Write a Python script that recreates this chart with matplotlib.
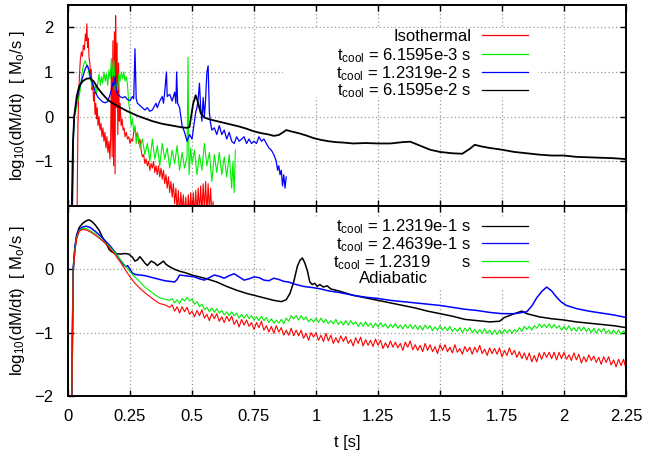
import matplotlib
matplotlib.use("Agg")
import numpy as np
import matplotlib.pyplot as plt
from matplotlib.patches import Rectangle

plt.rcParams['font.family'] = ['Liberation Sans', 'DejaVu Sans']
plt.rcParams['mathtext.fontset'] = 'custom'
plt.rcParams['mathtext.rm'] = 'Liberation Sans'
plt.rcParams['mathtext.it'] = 'Liberation Sans:italic'

# ---------------- data: top panel ----------------
t_iso = [0.036, 0.04, 0.043, 0.047, 0.05, 0.054, 0.058, 0.062, 0.066, 0.07, 0.073, 0.076, 0.079, 0.082, 0.085,
         0.088, 0.091, 0.094, 0.097, 0.1, 0.103, 0.106, 0.109, 0.112, 0.115, 0.118, 0.121, 0.125, 0.129, 0.133,
         0.137, 0.141, 0.145, 0.149, 0.153, 0.157, 0.161, 0.165, 0.169, 0.172, 0.175, 0.178, 0.181, 0.184, 0.187,
         0.19, 0.192, 0.195, 0.198, 0.201, 0.204, 0.207, 0.21, 0.214, 0.218, 0.222, 0.226, 0.23, 0.235, 0.24,
         0.245, 0.25, 0.255, 0.26, 0.265, 0.27, 0.275, 0.28, 0.285, 0.29, 0.295, 0.3, 0.305, 0.31, 0.315,
         0.32, 0.325, 0.33, 0.335, 0.34, 0.345, 0.35, 0.355, 0.36, 0.365, 0.37, 0.375, 0.38, 0.385, 0.39,
         0.395, 0.4, 0.405, 0.41, 0.415, 0.42, 0.425, 0.43, 0.435, 0.44, 0.445, 0.45, 0.455, 0.46, 0.465,
         0.47, 0.475, 0.48, 0.485, 0.49, 0.495, 0.5, 0.505, 0.51, 0.515, 0.52, 0.525, 0.53, 0.535, 0.54,
         0.545, 0.55, 0.555, 0.56, 0.565, 0.57, 0.575, 0.58, 0.585, 0.587]
y_iso = [-2.5, -0.2, 0.5, 1.0, 1.3, 1.45, 1.35, 1.6, 1.5, 1.85, 1.7, 2.08, 1.55, 1.75, 1.3,
         1.2, 0.95, 1.05, 0.6, 0.75, 0.35, 0.55, 0.05, 0.3, -0.05, 0.2, -0.2, 0.0, -0.3, -0.15,
         -0.45, -0.25, -0.55, -0.35, -0.7, -0.45, -0.8, -0.55, -0.95, -0.5, 1.1, -0.9, 1.7, -1.1, 1.9,
         -1.28, 2.26, 0.2, 1.65, -0.4, 1.2, -0.1, 0.3, -0.2, -0.05, -0.3, -0.25, -0.45, -0.35, -0.5,
         -0.45, -0.6, -0.5, -0.55, -0.35, -0.25, -0.45, -0.35, -0.6, -0.5, -0.75, -0.9, -0.85, -1.05, -0.95,
         -1.1, -1.0, -1.2, -1.05, -1.15, -1.0, -1.25, -1.1, -1.3, -1.1, -1.35, -1.15, -1.4, -1.2, -1.5,
         -1.3, -1.6, -1.35, -1.7, -1.45, -1.8, -1.5, -1.95, -1.6, -2.1, -1.65, -2.2, -1.7, -2.1, -1.75,
         -2.2, -1.8, -2.3, -1.75, -2.2, -1.7, -2.25, -1.7, -2.2, -1.65, -2.2, -1.6, -2.15, -1.55, -2.2,
         -1.5, -2.1, -1.45, -2.2, -1.5, -2.1, -1.6, -2.2, -1.9, -2.4]

t_c1 = [0.018, 0.022, 0.025, 0.03, 0.04, 0.048, 0.055, 0.06, 0.065, 0.07, 0.075, 0.08, 0.085, 0.09, 0.095,
        0.1, 0.105, 0.11, 0.115, 0.12, 0.125, 0.13, 0.135, 0.14, 0.145, 0.15, 0.155, 0.16, 0.165, 0.17,
        0.175, 0.18, 0.185, 0.19, 0.195, 0.2, 0.205, 0.21, 0.215, 0.22, 0.225, 0.23, 0.235, 0.24, 0.245,
        0.25, 0.255, 0.26, 0.265, 0.27, 0.275, 0.28, 0.29, 0.3, 0.31, 0.32, 0.33, 0.34, 0.35, 0.36,
        0.37, 0.38, 0.39, 0.4, 0.41, 0.42, 0.43, 0.44, 0.45, 0.46, 0.47, 0.48, 0.484, 0.488, 0.495,
        0.5, 0.51, 0.52, 0.53, 0.54, 0.55, 0.56, 0.57, 0.58, 0.59, 0.6, 0.61, 0.62, 0.63, 0.64,
        0.65, 0.66, 0.665, 0.67, 0.675]
y_c1 = [-2.3, -0.5, 0.0, 0.1, 0.35, 0.55, 0.9, 1.1, 1.2, 1.25, 1.15, 1.1, 0.95, 0.85, 0.75,
        0.72, 0.6, 0.7, 0.5, 0.75, 0.95, 0.7, 0.9, 0.75, 1.0, 0.8, 0.95, 0.7, 1.05, 0.85,
        1.3, 0.9, 1.25, 0.6, 0.75, 0.6, 0.95, 0.8, 1.0, 0.85, 1.0, 0.8, 0.9, 0.7, 0.3,
        0.1, -0.2, -0.05, -0.35, -0.2, -0.6, -0.35, -0.7, -0.5, -0.85, -0.6, -1.0, -0.5, -0.95, -0.65,
        -1.1, -0.6, -0.95, -0.7, -1.15, -0.75, -1.05, -0.65, -1.2, -0.8, -1.15, -0.9, 1.33, -1.3, -0.7,
        -1.05, -0.75, -1.3, -0.85, -1.2, -0.6, -1.1, -0.8, -1.45, -0.85, -1.25, -0.8, -1.3, -0.9, -1.35,
        -0.85, -1.6, -1.0, -1.7, -0.75]

t_c2 = [0.017, 0.021, 0.025, 0.03, 0.04, 0.05, 0.06, 0.07, 0.078, 0.085, 0.09, 0.1, 0.11, 0.12, 0.13,
        0.14, 0.15, 0.16, 0.17, 0.175, 0.18, 0.185, 0.19, 0.195, 0.2, 0.21, 0.22, 0.23, 0.24, 0.25,
        0.26, 0.265, 0.27, 0.275, 0.28, 0.29, 0.3, 0.31, 0.32, 0.33, 0.34, 0.35, 0.355, 0.36, 0.37,
        0.38, 0.385, 0.39, 0.397, 0.4, 0.41, 0.42, 0.43, 0.435, 0.438, 0.442, 0.45, 0.455, 0.46, 0.47,
        0.48, 0.49, 0.5, 0.505, 0.51, 0.515, 0.52, 0.525, 0.53, 0.535, 0.54, 0.545, 0.55, 0.555, 0.56,
        0.565, 0.57, 0.575, 0.58, 0.59, 0.6, 0.61, 0.62, 0.63, 0.64, 0.65, 0.66, 0.67, 0.68, 0.69,
        0.7, 0.71, 0.72, 0.73, 0.74, 0.75, 0.76, 0.77, 0.78, 0.79, 0.8, 0.81, 0.82, 0.83, 0.84,
        0.845, 0.85, 0.855, 0.86, 0.865, 0.87, 0.875, 0.88]
y_c2 = [-2.3, -0.5, 0.0, 0.2, 0.5, 0.72, 0.9, 1.08, 1.15, 1.05, 0.9, 0.72, 0.55, 0.44, 0.38,
        0.33, 0.31, 0.34, 0.5, 0.6, 0.75, 0.7, 0.9, 0.6, 0.5, 0.45, 0.42, 0.45, 0.38, 0.36,
        0.45, 0.4, 1.52, 0.4, 0.3, 0.25, 0.2, 0.15, 0.2, 0.12, 0.15, 0.25, 0.3, 0.2, 0.35,
        0.45, 0.3, 0.55, 1.0, 0.45, 0.5, 0.35, 0.55, 0.3, 1.0, 0.3, 0.2, 0.0, -0.2, -0.35,
        -0.55, -0.4, -0.5, -0.3, -0.1, 0.1, 0.2, 0.4, 0.75, 0.2, -0.1, 0.43, 0.0, 0.4, 1.0,
        1.14, 0.1, -0.15, -0.3, -0.25, -0.4, -0.2, -0.4, -0.3, -0.5, -0.35, -0.55, -0.6, -0.45, -0.55,
        -0.5, -0.45, -0.6, -0.5, -0.6, -0.55, -0.6, -0.45, -0.55, -0.5, -0.6, -0.7, -0.75, -0.85, -1.0,
        -1.2, -1.1, -1.3, -1.2, -1.55, -1.3, -1.6, -1.35]

t_c3 = [0.015, 0.02, 0.025, 0.035, 0.045, 0.06, 0.075, 0.09, 0.105, 0.12, 0.14, 0.16, 0.18, 0.2, 0.22,
        0.24, 0.26, 0.28, 0.3, 0.32, 0.34, 0.36, 0.38, 0.4, 0.42, 0.44, 0.46, 0.48, 0.49, 0.495,
        0.505, 0.515, 0.525, 0.535, 0.55, 0.57, 0.6, 0.63, 0.66, 0.69, 0.72, 0.75, 0.78, 0.81, 0.83,
        0.85, 0.87, 0.88, 0.9, 0.93, 0.96, 0.99, 1.02, 1.05, 1.08, 1.11, 1.15, 1.2, 1.25, 1.3,
        1.35, 1.38, 1.42, 1.46, 1.5, 1.55, 1.59, 1.62, 1.64, 1.67, 1.7, 1.75, 1.8, 1.85, 1.9,
        1.95, 2.0, 2.05, 2.1, 2.15, 2.2, 2.25]
y_c3 = [-2.1, -0.6, 0.0, 0.45, 0.68, 0.8, 0.85, 0.86, 0.78, 0.64, 0.5, 0.38, 0.3, 0.24, 0.18,
        0.12, 0.07, 0.02, -0.02, -0.06, -0.1, -0.13, -0.16, -0.18, -0.2, -0.22, -0.24, -0.25, -0.23, -0.05,
        0.3, 0.48, 0.3, 0.08, -0.02, -0.06, -0.1, -0.14, -0.18, -0.22, -0.27, -0.33, -0.37, -0.4, -0.43,
        -0.41, -0.34, -0.3, -0.33, -0.37, -0.42, -0.48, -0.52, -0.55, -0.57, -0.58, -0.6, -0.59, -0.6, -0.6,
        -0.57, -0.56, -0.65, -0.74, -0.79, -0.82, -0.83, -0.72, -0.63, -0.67, -0.7, -0.74, -0.79, -0.82, -0.85,
        -0.87, -0.87, -0.9, -0.91, -0.92, -0.93, -0.95]

# ---------------- data: bottom panel ----------------
t_b1 = [0.015, 0.018, 0.021, 0.028, 0.035, 0.045, 0.06, 0.075, 0.085, 0.095, 0.11, 0.125, 0.14, 0.155, 0.165,
        0.175, 0.19, 0.21, 0.23, 0.245, 0.26, 0.27, 0.28, 0.29, 0.3, 0.31, 0.32, 0.335, 0.35, 0.36,
        0.375, 0.385, 0.395, 0.41, 0.43, 0.45, 0.47, 0.5, 0.53, 0.56, 0.6, 0.64, 0.68, 0.72, 0.76,
        0.8, 0.83, 0.86, 0.88, 0.895, 0.91, 0.925, 0.935, 0.945, 0.955, 0.965, 0.975, 0.985, 0.995, 1.005,
        1.015, 1.03, 1.045, 1.06, 1.1, 1.15, 1.2, 1.25, 1.3, 1.35, 1.4, 1.45, 1.5, 1.55, 1.6,
        1.65, 1.7, 1.74, 1.76, 1.8, 1.83, 1.85, 1.9, 1.95, 2.0, 2.05, 2.1, 2.15, 2.2, 2.25]
y_b1 = [-2.3, -1.0, 0.0, 0.35, 0.54, 0.66, 0.73, 0.77, 0.78, 0.76, 0.7, 0.62, 0.5, 0.4, 0.32,
        0.28, 0.25, 0.24, 0.25, 0.24, 0.19, 0.13, 0.15, 0.2, 0.15, 0.1, 0.06, 0.13, 0.1, 0.06,
        0.1, 0.13, 0.08, 0.04, 0.0, -0.03, -0.05, -0.09, -0.12, -0.15, -0.2, -0.27, -0.33, -0.38, -0.42,
        -0.46, -0.49, -0.51, -0.48, -0.38, -0.2, 0.05, 0.14, 0.18, 0.1, -0.02, -0.2, -0.24, -0.22, -0.27,
        -0.24, -0.28, -0.26, -0.31, -0.35, -0.41, -0.45, -0.49, -0.53, -0.57, -0.61, -0.66, -0.7, -0.74, -0.79,
        -0.81, -0.83, -0.82, -0.76, -0.7, -0.66, -0.7, -0.75, -0.78, -0.8, -0.83, -0.85, -0.87, -0.89, -0.92]

t_b2 = [0.015, 0.018, 0.021, 0.028, 0.035, 0.045, 0.06, 0.075, 0.09, 0.11, 0.13, 0.15, 0.17, 0.19, 0.21,
        0.225, 0.235, 0.24, 0.25, 0.26, 0.27, 0.29, 0.31, 0.33, 0.35, 0.37, 0.39, 0.41, 0.43, 0.44,
        0.45, 0.47, 0.49, 0.51, 0.53, 0.55, 0.57, 0.59, 0.61, 0.63, 0.65, 0.67, 0.69, 0.71, 0.73,
        0.75, 0.77, 0.79, 0.81, 0.83, 0.85, 0.87, 0.89, 0.91, 0.93, 0.95, 0.97, 0.99, 1.02, 1.05,
        1.1, 1.15, 1.2, 1.25, 1.3, 1.35, 1.4, 1.45, 1.5, 1.55, 1.6, 1.65, 1.7, 1.75, 1.8,
        1.85, 1.87, 1.89, 1.91, 1.93, 1.95, 1.97, 1.99, 2.01, 2.05, 2.1, 2.15, 2.2, 2.25]
y_b2 = [-2.3, -1.0, 0.0, 0.35, 0.52, 0.63, 0.67, 0.68, 0.66, 0.6, 0.53, 0.45, 0.37, 0.27, 0.15,
        0.07, 0.04, 0.06, 0.0, -0.06, -0.08, -0.09, -0.1, -0.12, -0.14, -0.16, -0.18, -0.19, -0.2, -0.16,
        -0.09, -0.1, -0.11, -0.12, -0.15, -0.17, -0.13, -0.09, -0.11, -0.14, -0.1, -0.07, -0.12, -0.17, -0.15,
        -0.12, -0.13, -0.17, -0.18, -0.14, -0.16, -0.19, -0.2, -0.23, -0.25, -0.27, -0.28, -0.29, -0.31, -0.34,
        -0.37, -0.41, -0.44, -0.46, -0.49, -0.51, -0.53, -0.55, -0.57, -0.6, -0.63, -0.65, -0.68, -0.7, -0.7,
        -0.67, -0.58, -0.45, -0.35, -0.28, -0.34, -0.44, -0.52, -0.57, -0.62, -0.66, -0.69, -0.72, -0.76]

# early (smooth) part of the two noisiest bottom curves
t_b3a = [0.015, 0.018, 0.021, 0.028, 0.035, 0.045, 0.06, 0.075, 0.09, 0.11, 0.13, 0.15, 0.17, 0.19, 0.21,
         0.23, 0.25, 0.27, 0.29, 0.31, 0.33, 0.35, 0.37, 0.39, 0.41]
y_b3a = [-2.3, -1.0, -0.02, 0.32, 0.5, 0.61, 0.65, 0.64, 0.61, 0.56, 0.49, 0.42, 0.35, 0.26, 0.16,
         0.06, -0.04, -0.12, -0.2, -0.28, -0.34, -0.4, -0.45, -0.47, -0.49]
t_b4a = t_b3a
y_b4a = [-2.3, -1.0, -0.04, 0.3, 0.48, 0.6, 0.63, 0.62, 0.59, 0.54, 0.48, 0.41, 0.33, 0.23, 0.12,
         0.0, -0.12, -0.22, -0.3, -0.37, -0.43, -0.49, -0.54, -0.56, -0.6]
# noisy part, sampled every 0.01 s from 0.42 s to 2.25 s
t_dense = np.round(np.arange(0.42, 2.2501, 0.01), 2)
y_b3b = [-0.46, -0.53, -0.48, -0.54, -0.46, -0.50, -0.44, -0.50, -0.47, -0.55,
         -0.51, -0.59, -0.55, -0.64, -0.60, -0.67, -0.61, -0.68, -0.62, -0.69,
         -0.65, -0.72, -0.67, -0.73, -0.67, -0.73, -0.69, -0.77, -0.71, -0.77,
         -0.71, -0.78, -0.73, -0.80, -0.75, -0.81, -0.74, -0.81, -0.76, -0.84,
         -0.78, -0.85, -0.80, -0.85, -0.79, -0.86, -0.77, -0.82, -0.73, -0.78,
         -0.73, -0.80, -0.73, -0.80, -0.75, -0.83, -0.78, -0.83, -0.77, -0.84,
         -0.77, -0.84, -0.79, -0.86, -0.81, -0.86, -0.79, -0.87, -0.82, -0.88,
         -0.81, -0.88, -0.81, -0.87, -0.83, -0.90, -0.84, -0.90, -0.83, -0.90,
         -0.85, -0.92, -0.85, -0.91, -0.84, -0.91, -0.86, -0.93, -0.87, -0.92,
         -0.86, -0.93, -0.88, -0.94, -0.87, -0.93, -0.87, -0.94, -0.88, -0.95,
         -0.89, -0.96, -0.88, -0.94, -0.89, -0.97, -0.91, -0.96, -0.89, -0.96,
         -0.91, -0.97, -0.90, -0.98, -0.93, -0.98, -0.92, -1.00, -0.93, -0.98,
         -0.92, -1.00, -0.95, -1.01, -0.95, -1.01, -0.94, -1.01, -0.96, -1.03,
         -0.96, -1.03, -0.96, -1.02, -0.95, -1.00, -0.95, -1.01, -0.95, -0.99,
         -0.92, -0.98, -0.90, -0.95, -0.90, -0.96, -0.89, -0.93, -0.86, -0.92,
         -0.87, -0.92, -0.86, -0.93, -0.87, -0.93, -0.89, -0.96, -0.90, -0.96,
         -0.89, -0.97, -0.92, -0.98, -0.91, -0.97, -0.91, -0.98, -0.93, -1.00,
         -0.93, -1.01, -0.94, -0.99, -0.93, -1.01, -0.96, -1.02, -0.96, -1.02,
         -0.96, -1.03, -0.97, -1.01]
y_b4b = [-0.56, -0.66, -0.59, -0.69, -0.59, -0.67, -0.60, -0.71, -0.66, -0.75,
         -0.65, -0.73, -0.64, -0.77, -0.71, -0.81, -0.70, -0.78, -0.70, -0.82,
         -0.75, -0.84, -0.74, -0.82, -0.74, -0.87, -0.80, -0.91, -0.79, -0.88,
         -0.80, -0.90, -0.84, -0.95, -0.84, -0.92, -0.82, -0.96, -0.89, -0.99,
         -0.90, -1.01, -0.89, -0.99, -0.92, -1.04, -0.96, -1.04, -0.93, -1.05,
         -0.96, -1.05, -0.96, -1.09, -1.01, -1.12, -1.00, -1.07, -1.00, -1.12,
         -1.04, -1.14, -1.01, -1.13, -1.04, -1.17, -1.08, -1.16, -1.05, -1.14,
         -1.06, -1.17, -1.11, -1.21, -1.08, -1.17, -1.07, -1.21, -1.11, -1.20,
         -1.12, -1.22, -1.10, -1.20, -1.12, -1.25, -1.16, -1.24, -1.13, -1.23,
         -1.15, -1.24, -1.17, -1.28, -1.15, -1.23, -1.13, -1.27, -1.19, -1.28,
         -1.20, -1.30, -1.17, -1.28, -1.19, -1.30, -1.22, -1.33, -1.19, -1.28,
         -1.19, -1.30, -1.23, -1.32, -1.19, -1.31, -1.25, -1.34, -1.22, -1.30,
         -1.23, -1.34, -1.23, -1.31, -1.20, -1.33, -1.26, -1.36, -1.24, -1.33,
         -1.25, -1.34, -1.24, -1.38, -1.28, -1.36, -1.24, -1.35, -1.28, -1.39,
         -1.30, -1.41, -1.32, -1.43, -1.32, -1.46, -1.36, -1.46, -1.32, -1.42,
         -1.31, -1.39, -1.31, -1.41, -1.31, -1.43, -1.31, -1.41, -1.31, -1.42,
         -1.35, -1.44, -1.32, -1.43, -1.34, -1.48, -1.38, -1.46, -1.35, -1.44,
         -1.37, -1.47, -1.39, -1.50, -1.38, -1.47, -1.38, -1.51, -1.43, -1.54,
         -1.42, -1.52, -1.42, -1.57]

top_labels = ['Isothermal',
              r'$\mathregular{t_{cool}}$ = 6.1595e-3 s',
              r'$\mathregular{t_{cool}}$ = 1.2319e-2 s',
              r'$\mathregular{t_{cool}}$ = 6.1595e-2 s']
bottom_labels = [r'$\mathregular{t_{cool}}$ = 1.2319e-1 s',
                 r'$\mathregular{t_{cool}}$ = 2.4639e-1 s',
                 r'$\mathregular{t_{cool}}$ = 1.2319 $\quad\quad$s',
                 'Adiabatic']
x_ticks = [0, 0.25, 0.5, 0.75, 1, 1.25, 1.5, 1.75, 2, 2.25]
x_tick_labels = ['0', '0.25', '0.5', '0.75', '1', '1.25', '1.5', '1.75', '2', '2.25']
top_yticks = [-1, 0, 1, 2]
bottom_yticks = [-2, -1, 0]
ylabel = r'log$_{\mathregular{10}}$(dM/dt)  [ M$_{\mathregular{o}}$/s ]'

RED, GREEN, BLUE, BLACK = '#ff0000', '#00ee00', '#0000ff', '#000000'

W, H = 646, 451
fig = plt.figure(figsize=(W / 100, H / 100), dpi=100)
ax1 = fig.add_axes([68 / W, (H - 206) / H, 558 / W, 201 / H])
ax2 = fig.add_axes([68 / W, (H - 396) / H, 558 / W, 190 / H])

for ax in (ax1, ax2):
    ax.set_xlim(0, 2.25)
    ax.set_xticks(x_ticks)
    ax.tick_params(direction='in', length=4, width=1, top=True, right=True, labelsize=12)
    ax.tick_params(axis='y', pad=10.5)
    ax.tick_params(axis='x', pad=9.5)
    ax.grid(True, color='#9a9a9a', linestyle=(0, (1, 2)), linewidth=0.9)
    ax.set_axisbelow(True)
    for sp in ax.spines.values():
        sp.set_linewidth(1.4)
    ax.set_ylabel(ylabel, fontsize=12)
    ax.yaxis.set_label_coords(-0.073, 0.5)

leg_kw = dict(loc='upper right', markerfirst=False, frameon=False, handlelength=2.76,
              handletextpad=0.66, labelspacing=-0.06, borderpad=0, borderaxespad=0, fontsize=12)

# top panel
ax1.set_ylim(-2, 2.5)
ax1.set_yticks(top_yticks)
ax1.tick_params(labelbottom=False)
h1, = ax1.plot(t_iso, y_iso, color=RED, lw=0.8)
h2, = ax1.plot(t_c1, y_c1, color=GREEN, lw=0.8)
h3, = ax1.plot(t_c2, y_c2, color=BLUE, lw=0.9)
h4, = ax1.plot(t_c3, y_c3, color=BLACK, lw=1.3)
ax1.add_patch(Rectangle((0.385, 0.542), 0.457, 0.344, transform=ax1.transAxes,
                        facecolor='white', edgecolor='none', zorder=1))
leg1 = ax1.legend([h1, h2, h3, h4], top_labels, bbox_to_anchor=(0.8244, 0.865), **leg_kw)
for ln in leg1.get_lines():
    ln.set_linewidth(0.9)
# first row (no subscript) is shorter than the others: lift it to keep even spacing
leg1.get_texts()[0].set_y(3)
ln0 = leg1.get_lines()[0]
ln0.set_ydata(np.asarray(ln0.get_ydata()) + 3 * 72 / 100)

# bottom panel
ax2.set_ylim(-2, 1)
ax2.set_yticks(bottom_yticks)
ax2.set_xticklabels(x_tick_labels)
g1, = ax2.plot(t_b1, y_b1, color=BLACK, lw=1.1)
g2, = ax2.plot(t_b2, y_b2, color=BLUE, lw=1.1)
g3, = ax2.plot(list(t_b3a) + list(t_dense), y_b3a + y_b3b, color=GREEN, lw=0.8)
g4, = ax2.plot(list(t_b4a) + list(t_dense), y_b4a + y_b4b, color=RED, lw=0.8)
ax2.add_patch(Rectangle((0.353, 0.558), 0.489, 0.38, transform=ax2.transAxes,
                        facecolor='white', edgecolor='none', zorder=1))
leg2 = ax2.legend([g1, g2, g3, g4], bottom_labels, bbox_to_anchor=(0.8244, 0.939), **leg_kw)
for ln in leg2.get_lines():
    ln.set_linewidth(0.9)
# "Adiabatic" is padded with blanks in the original key, so it sits further left
leg2.get_texts()[3].set_x(-43)
ax2.set_xlabel('t [s]', fontsize=12, labelpad=8)

fig.savefig('out.png', dpi=100)
